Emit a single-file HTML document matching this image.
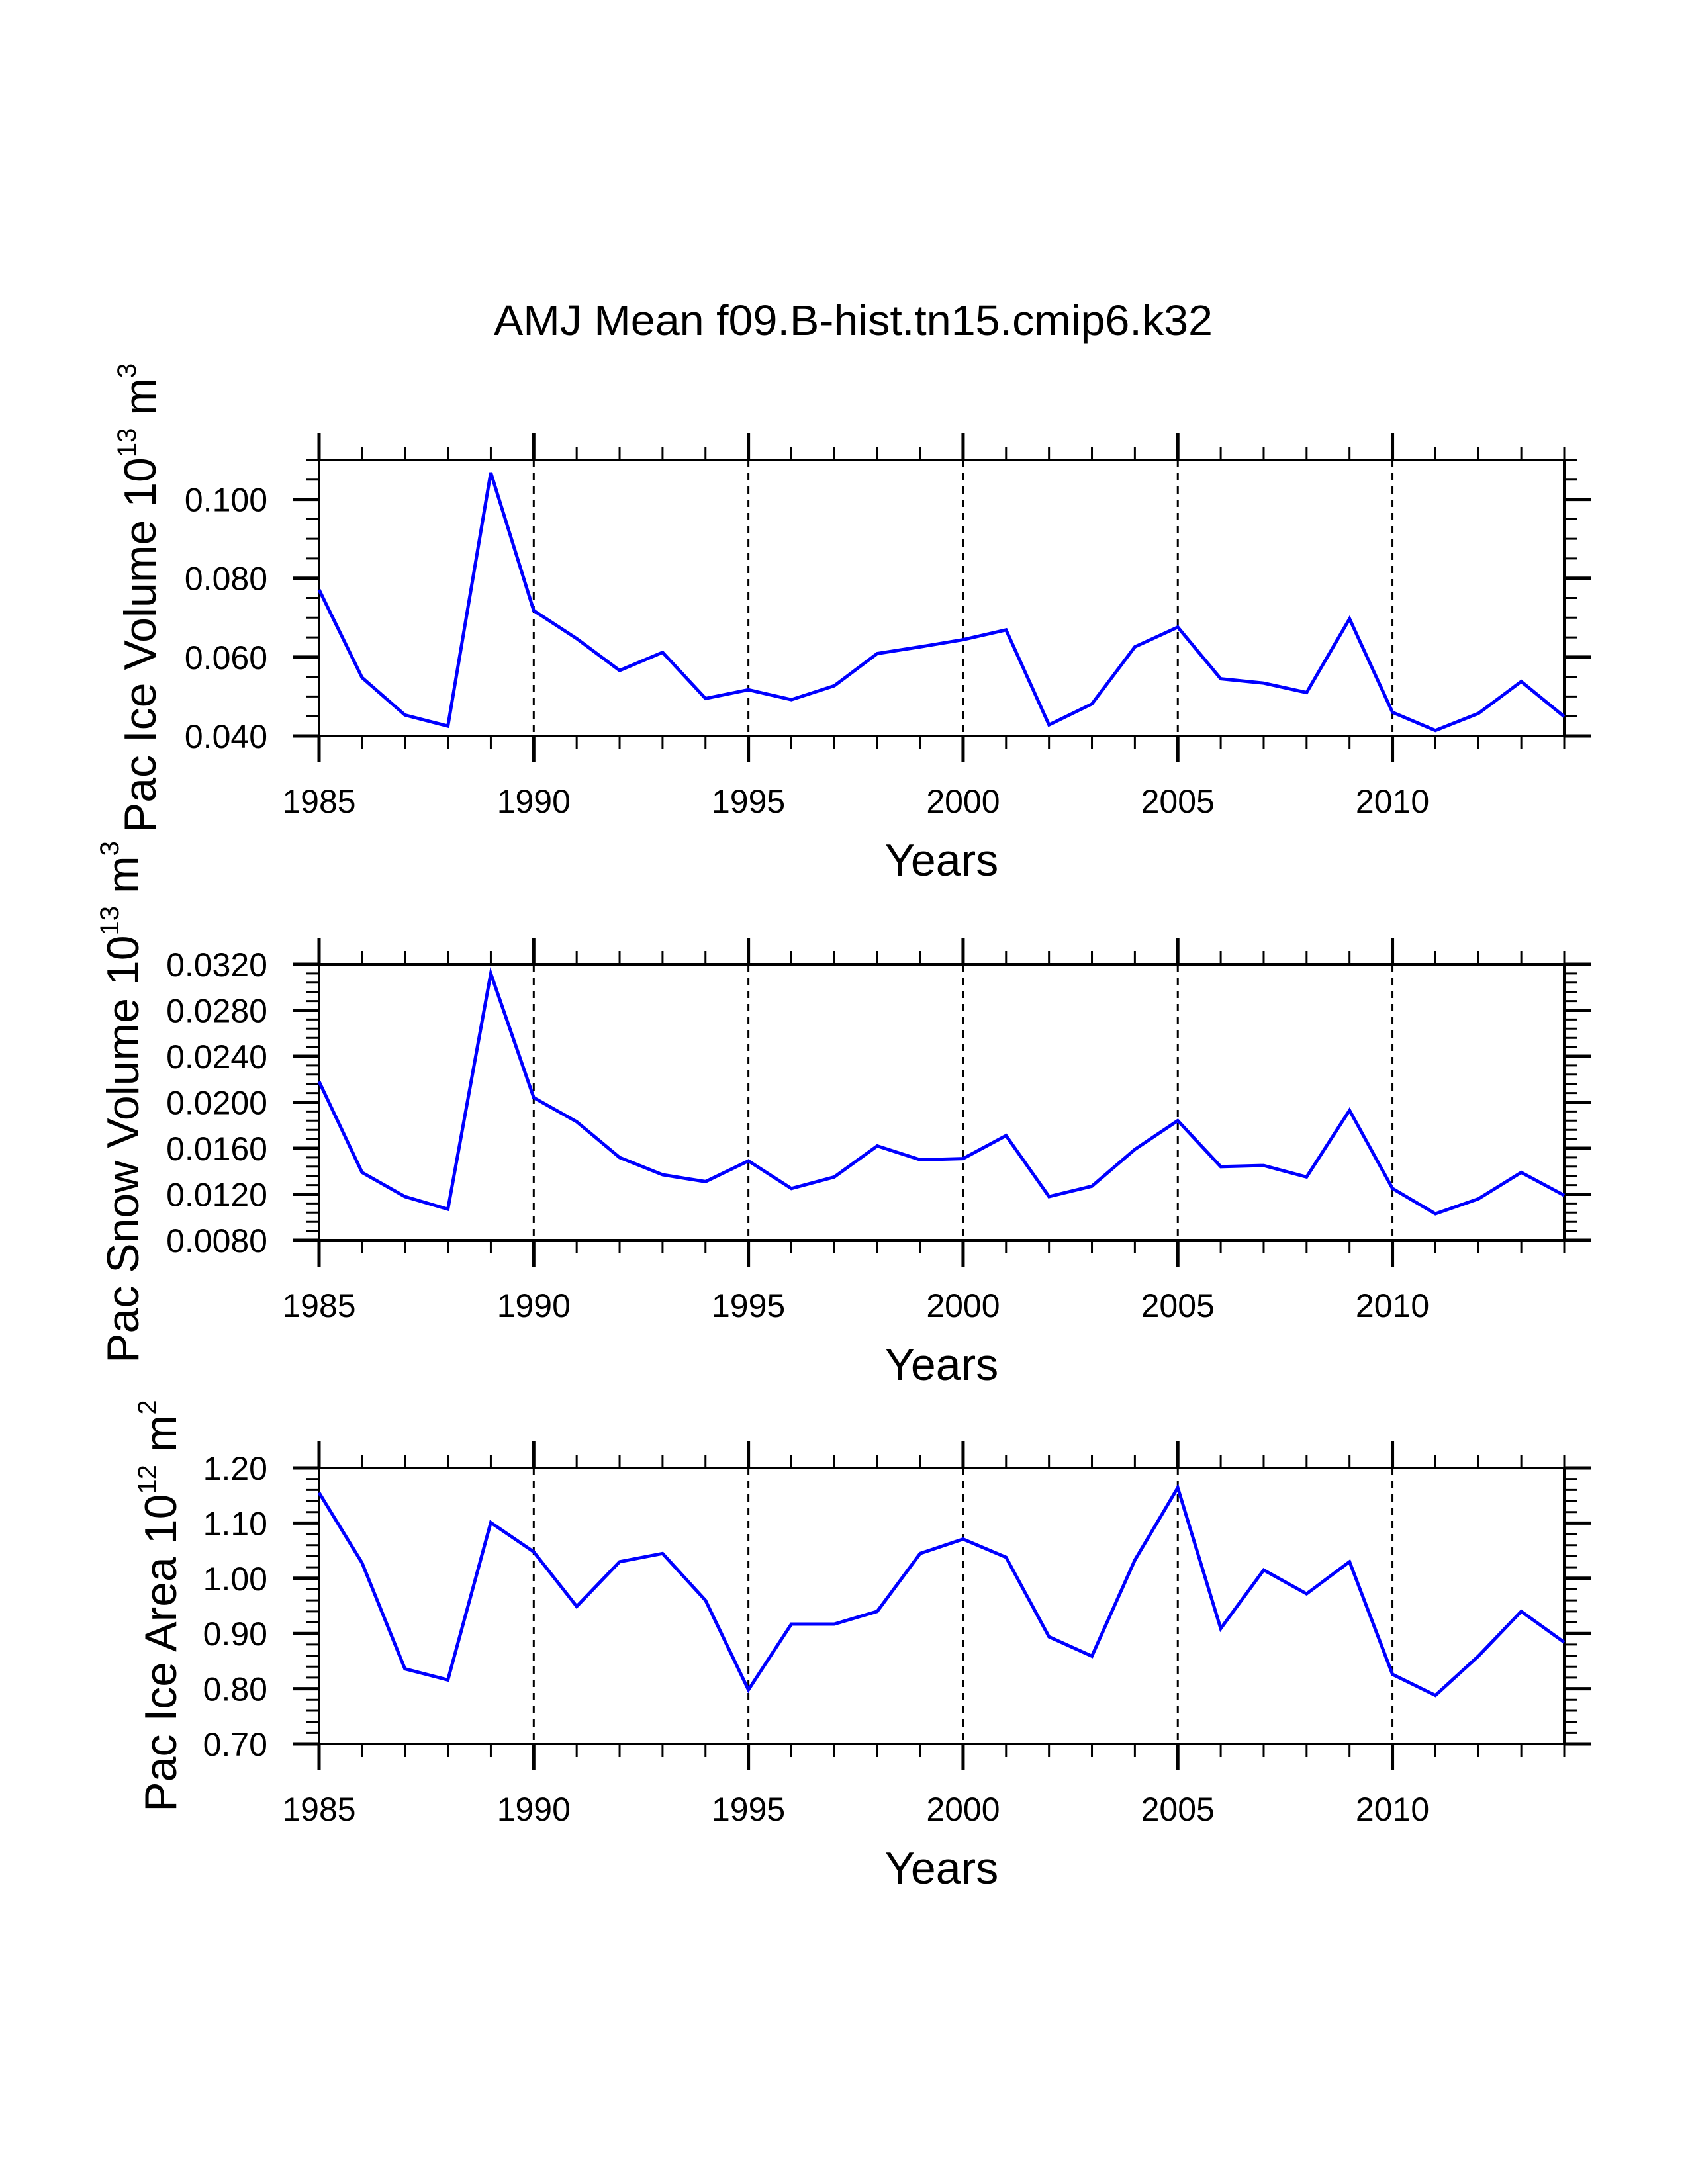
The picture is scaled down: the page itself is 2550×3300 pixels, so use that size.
<!DOCTYPE html>
<html><head><meta charset="utf-8"><style>html,body{margin:0;padding:0;background:#fff}svg{display:block}</style></head>
<body>
<svg id="chart" width="2550" height="3300" xmlns="http://www.w3.org/2000/svg" font-family="Liberation Sans, Arial, sans-serif">
<rect width="2550" height="3300" fill="#fff"/>
<text x="1289" y="506" font-size="64" text-anchor="middle" textLength="1086" lengthAdjust="spacingAndGlyphs">AMJ Mean f09.B-hist.tn15.cmip6.k32</text>
<g id="plots"></g>
</svg>
<script>
const years = [1985,1986,1987,1988,1989,1990,1991,1992,1993,1994,1995,1996,1997,1998,1999,2000,2001,2002,2003,2004,2005,2006,2007,2008,2009,2010,2011,2012,2013,2014];
const iceVolume = [0.0771,0.0548,0.0453,0.0425,0.1068,0.0718,0.0647,0.0566,0.0612,0.0495,0.0517,0.0492,0.0527,0.0609,0.0626,0.0644,0.0669,0.0428,0.0481,0.0626,0.0676,0.0545,0.0534,0.0510,0.0697,0.0460,0.0414,0.0457,0.0538,0.0449];
const snowVolume = [0.0218,0.0139,0.0118,0.0107,0.0312,0.0204,0.0183,0.0152,0.0137,0.0131,0.0149,0.0125,0.0135,0.0162,0.0150,0.0151,0.0171,0.0118,0.0127,0.0159,0.0184,0.0144,0.0145,0.0135,0.0193,0.0125,0.0103,0.0116,0.0139,0.0119];
const iceArea = [1.155,1.028,0.836,0.816,1.101,1.048,0.949,1.030,1.045,0.960,0.798,0.917,0.917,0.940,1.045,1.071,1.038,0.894,0.859,1.033,1.164,0.909,1.015,0.972,1.030,0.826,0.788,0.859,0.940,0.884];
const xTickLabels = ['1985','1990','1995','2000','2005','2010'];
const iceVolTicks = ['0.040','0.060','0.080','0.100'];
const snowTicks = ['0.0080','0.0120','0.0160','0.0200','0.0240','0.0280','0.0320'];
const areaTicks = ['0.70','0.80','0.90','1.00','1.10','1.20'];

const NS='http://www.w3.org/2000/svg';
const root=document.getElementById('plots');
function mk(tag,attrs,parent){const e=document.createElementNS(NS,tag);for(const k in attrs)e.setAttribute(k,attrs[k]);(parent||root).appendChild(e);return e;}
const X0=482,X1=2363;
function xs(v){return X0+(v-1985)/(2014-1985)*(X1-X0);}

const panels=[
 {name:'ice-volume',top:695,ymin:0.04,ymax:0.11,minor:0.005,ticks:iceVolTicks,data:iceVolume,title:['Pac Ice Volume 10','13',' m','3'],tx:211},
 {name:'snow-volume',top:1457,ymin:0.008,ymax:0.032,minor:0.0008,ticks:snowTicks,data:snowVolume,title:['Pac Snow Volume 10','13',' m','3'],tx:185},
 {name:'ice-area',top:2218,ymin:0.70,ymax:1.20,minor:0.02,ticks:areaTicks,data:iceArea,title:['Pac Ice Area 10','12',' m','2'],tx:242}
];
panels.forEach(p=>{
 const H=417,bot=p.top+H;
 const g=mk('g',{});
 
 
 const ys=v=>bot-(v-p.ymin)/(p.ymax-p.ymin)*H;
 // grid
 for(let yr=1990;yr<=2010;yr+=5){
  const l=mk('line',{x1:xs(yr),x2:xs(yr),y1:p.top,y2:bot,stroke:'#000','stroke-width':3,'stroke-dasharray':'11 9'},g);
  
  
 }
 // x ticks
 years.forEach(yr=>{
  const major=(yr%5===0);const L=major?40:20;const w=major?5:3;
  mk('line',{x1:xs(yr),x2:xs(yr),y1:p.top-L,y2:p.top,stroke:'#000','stroke-width':w},g);
  mk('line',{x1:xs(yr),x2:xs(yr),y1:bot,y2:bot+L,stroke:'#000','stroke-width':w},g);
 });
 xTickLabels.forEach(s=>{
  const t=mk('text',{x:xs(+s),y:bot+116,'font-size':50,'text-anchor':'middle'},g);
  t.textContent=s;
  
  
 });
 // y ticks
 const n=Math.round((p.ymax-p.ymin)/p.minor);
 const majorVals=p.ticks.map(Number);
 for(let i=0;i<=n;i++){
  const v=p.ymin+i*p.minor;
  const isMaj=majorVals.some(m=>Math.abs(m-v)<p.minor/10);
  const L=isMaj?40:20;
  mk('line',{x1:X0-L,x2:X0,y1:ys(v),y2:ys(v),stroke:'#000','stroke-width':isMaj?5:3},g);
  mk('line',{x1:X1,x2:X1+L,y1:ys(v),y2:ys(v),stroke:'#000','stroke-width':isMaj?5:3},g);
 }
 p.ticks.forEach(s=>{
  const t=mk('text',{x:X0-78,y:ys(+s)+18,'font-size':50,'text-anchor':'end'},g);
  t.textContent=s;
  
  
 });
 // frame
 const fr=mk('rect',{x:X0,y:p.top,width:X1-X0,height:H,fill:'none',stroke:'#000','stroke-width':4},g);
 
 
 // line
 const pts=p.data.map((v,i)=>xs(years[i]).toFixed(1)+','+ys(v).toFixed(1)).join(' ');
 const pl=mk('polyline',{points:pts,fill:'none',stroke:'#0000ff','stroke-width':5,'stroke-linejoin':'miter'},g);
 
 
 // x title
 const xt=mk('text',{x:(X0+X1)/2,y:bot+211,'font-size':68,'text-anchor':'middle'},g);
 xt.textContent='Years';
 
 
 // y title
 const yt=mk('text',{transform:'translate('+(p.tx+24)+','+(p.top+H/2)+') rotate(-90)','font-size':68,'text-anchor':'middle'},g);
 
 
 const a=mk('tspan',{},yt);a.textContent=p.title[0];
 const b=mk('tspan',{dy:-30,'font-size':40},yt);b.textContent=p.title[1];
 const c=mk('tspan',{dy:30},yt);c.textContent=p.title[2];
 const d=mk('tspan',{dy:-30,'font-size':40},yt);d.textContent=p.title[3];
});
</script>
</body></html>
